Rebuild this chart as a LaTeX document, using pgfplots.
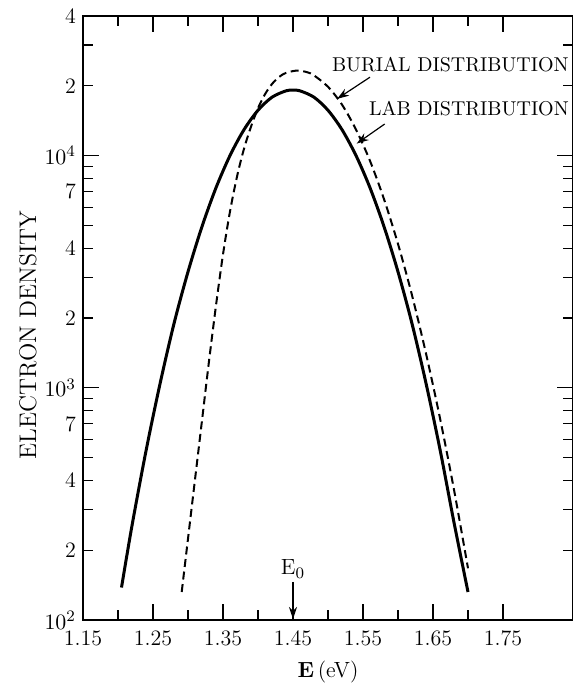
\documentclass[border=0pt]{standalone}
\usepackage{pgfplots}
\pgfplotsset{compat=1.18}
\usetikzlibrary{arrows.meta}

% lab distribution (solid)
\pgfplotstableread{
E     n
1.205 138
1.22  255
1.24  535
1.26  1040
1.28  1892
1.30  3162
1.32  4955
1.34  7278
1.36  10020
1.38  12950
1.40  15700
1.42  17870
1.44  19040
1.45  19190
1.46  19040
1.48  17870
1.50  15700
1.52  12950
1.54  10020
1.56  7278
1.58  4955
1.60  3162
1.62  1892
1.64  1047
1.66  543
1.68  263
1.70  132
}\labdist

% burial distribution (dashed)
\pgfplotstableread{
E     n
1.291 132
1.30  224
1.31  403
1.32  724
1.33  1303
1.34  2265
1.35  3758
1.36  5754
1.37  8128
1.38  10720
1.39  13340
1.40  16030
1.41  18410
1.42  20370
1.43  21830
1.44  22750
1.456 23280
1.47  22910
1.48  22180
1.50  19820
1.52  16600
1.54  12970
1.56  9506
1.58  6501
1.60  4169
1.62  2506
1.64  1406
1.66  740
1.68  364
1.70  167
}\burialdist

\begin{document}
\begin{tikzpicture}
\begin{axis}[
  scale only axis, width=245pt, height=302pt,
  xmin=1.15, xmax=1.85,
  ymode=log, ymin=100, ymax=40000,
  axis line style={line width=0.8pt},
  tick align=inside,
  tick style={black, line width=0.6pt},
  major tick length=8pt, minor tick length=5pt,
  xtick={1.15,1.25,1.35,1.45,1.55,1.65,1.75},
  xticklabels={1.15,1.25,1.35,1.45,1.55,1.65,1.75},
  minor xtick={1.2,1.3,1.4,1.5,1.6,1.7},
  ytick={100,1000,10000},
  yticklabels={$10^2$,$10^3$,$10^4$},
  extra y ticks={200,400,700,2000,4000,7000,20000,40000},
  extra y tick labels={2,4,7,2,4,7,2,4},
  extra y tick style={major tick length=5pt},
  minor ytick={300,500,600,800,900,3000,5000,6000,8000,9000,30000},
  x tick label style={font=\fontsize{11}{13}\selectfont, yshift=-2pt},
  y tick label style={font=\fontsize{11}{13}\selectfont},
  xlabel={$\mathbf{E}$\,(eV)},
  xlabel style={at={(axis description cs:0.5,0)}, anchor=center, yshift=-26pt, font=\fontsize{11}{13}\selectfont},
  ylabel={ELECTRON DENSITY},
  ylabel style={at={(axis description cs:-0.1122,0.472)}, anchor=center, font=\fontsize{12}{14}\selectfont},
]
\addplot[black, line width=1.5pt, smooth] table[x=E, y=n] {\labdist};
\addplot[black, line width=1pt, smooth, dash pattern=on 4pt off 2.3pt] table[x=E, y=n] {\burialdist};

\node[anchor=west, font=\fontsize{10}{12}\selectfont] at (axis cs:1.4957,24800) {BURIAL DISTRIBUTION};
\node[anchor=west, font=\fontsize{10}{12}\selectfont] at (axis cs:1.5486,15910) {LAB DISTRIBUTION};
\draw[-{Stealth[length=6pt,width=4pt]}, line width=0.6pt] (axis cs:1.560,21800) -- (axis cs:1.513,17580);
\draw[-{Stealth[length=6pt,width=4pt]}, line width=0.6pt] (axis cs:1.581,13700) -- (axis cs:1.541,11280);
\draw[-{Stealth[length=6pt,width=4pt]}, line width=0.8pt] (axis cs:1.45,146) -- (axis cs:1.45,101);
\node[anchor=south, font=\fontsize{11}{13}\selectfont, inner sep=1pt] at (axis cs:1.45,148) {E$_0$};
\end{axis}
\pgfresetboundingbox
\path[use as bounding box] ([xshift=-41.5pt,yshift=-32.5pt]current axis.south west) rectangle ([yshift=8pt]current axis.north east);
\end{tikzpicture}
\end{document}
